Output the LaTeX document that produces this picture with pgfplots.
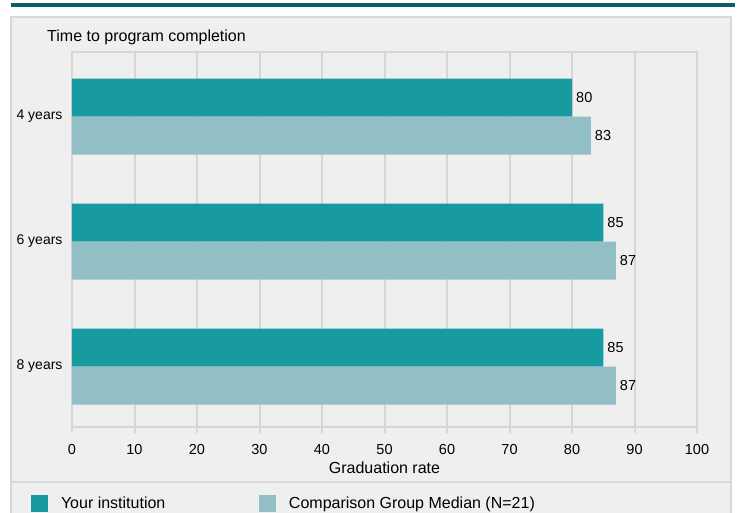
\documentclass[border=0pt]{standalone}
\usepackage{fontspec}
\setmainfont{Liberation Sans}
\usepackage{pgfplots}
\pgfplotsset{compat=1.18}
\definecolor{teal1}{RGB}{23,154,160}
\definecolor{teal2}{RGB}{145,191,197}
\definecolor{topbar}{RGB}{11,95,99}
\definecolor{panel}{RGB}{239,239,239}
\definecolor{gridc}{RGB}{214,214,214}
\definecolor{borderc}{RGB}{216,216,216}
\begin{document}
\begin{tikzpicture}[x=1pt,y=1pt]
\useasboundingbox (0,0) rectangle (742,512);
\fill[topbar] (11,509) rectangle (735,504.5);
\filldraw[fill=panel, draw=borderc, line width=2pt] (11,495) rectangle (731,-10);
\draw[borderc, line width=2pt] (11,30) -- (731,30);
\node[anchor=west, inner sep=0pt, font=\fontsize{16}{19}\selectfont] at (47,475) {Time to program completion};
\begin{axis}[
  at={(72pt,85pt)}, anchor=south west,
  scale only axis, width=625pt, height=375pt,
  xmin=0, xmax=100, ymin=-0.516, ymax=2.484,
  y dir=reverse,
  xbar, bar width=38pt,
  /pgf/number format/assume math mode=true,
  xtick={0,10,...,100},
  ytick={0,1,2}, yticklabels={4 years,6 years,8 years},
  axis line style={gridc, line width=2pt},
  xmajorgrids, grid style={gridc, line width=2pt},
  tick align=outside, major tick length=6pt,
  xtick pos=lower,
  xtick style={gridc, line width=2pt},
  ytick style={draw=none},
  xticklabel style={font=\fontsize{14.5}{17}\selectfont, text=black, yshift=-8pt},
  yticklabel style={font=\fontsize{14}{17}\selectfont, text=black, xshift=0pt},
  xlabel={Graduation rate},
  xlabel style={font=\fontsize{16}{19}\selectfont, text=black},
  nodes near coords,
  nodes near coords style={font=\fontsize{14.5}{17}\selectfont, text=black, anchor=west, inner sep=4pt},
  legend columns=2,
  legend style={at={(axis description cs:-0.0656,-0.204)}, anchor=west, draw=none, fill=none,
    inner sep=0pt, outer sep=0pt, column sep=0pt, nodes={inner sep=0pt},
    font=\fontsize{16}{19}\selectfont},
  legend cell align=left,
  legend image code/.code={\fill[#1] (0pt,-8.5pt) rectangle (17pt,8.5pt); \path (30pt,0pt);},
]
\addplot[fill=teal1, draw=none, bar shift=19pt] coordinates {(80,0) (85,1) (85,2)};
\addlegendentry{\makebox[198pt][l]{Your institution}}
\addplot[fill=teal2, draw=none, bar shift=-19pt] coordinates {(83,0) (87,1) (87,2)};
\addlegendentry{Comparison Group Median (N=21)}
\end{axis}
\end{tikzpicture}
\end{document}
